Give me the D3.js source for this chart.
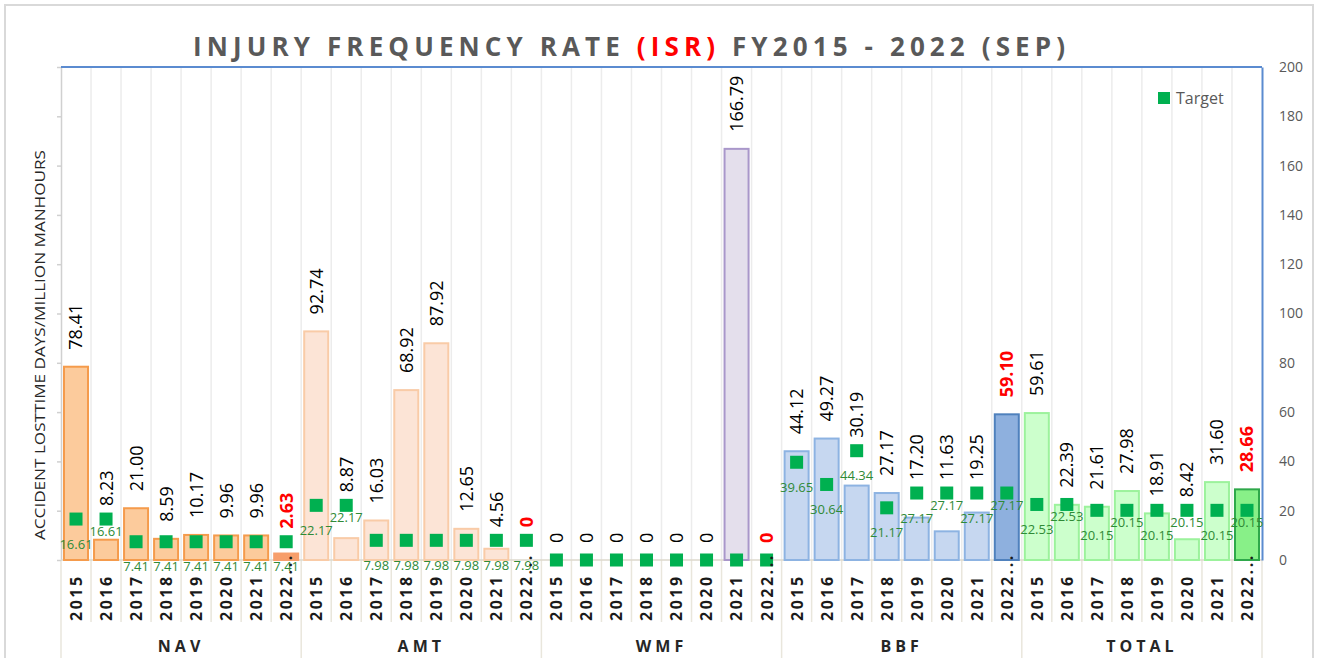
<!DOCTYPE html>
<meta charset="utf-8">
<style>
  body { margin: 0; background: #fff; }
  text { font-family: "Open Sans", Lato, sans-serif; }
</style>
<body>
<svg width="1319" height="658"></svg>
<script src="https://cdn.jsdelivr.net/npm/d3@7"></script>
<script>
    // ---- data ----
    let groups = ["NAV", "AMT", "WMF", "BBF", "TOTAL"];
    let years = ["2015", "2016", "2017", "2018", "2019", "2020", "2021", "2022..."];

    let navRate   = [78.41, 8.23, 21.00, 8.59, 10.17, 9.96, 9.96, 2.63];
    let navTarget = [16.61, 16.61, 7.41, 7.41, 7.41, 7.41, 7.41, 7.41];
    let amtRate   = [92.74, 8.87, 16.03, 68.92, 87.92, 12.65, 4.56, 0];
    let amtTarget = [22.17, 22.17, 7.98, 7.98, 7.98, 7.98, 7.98, 7.98];
    let wmfRate   = [0, 0, 0, 0, 0, 0, 166.79, 0];
    let wmfTarget = [0, 0, 0, 0, 0, 0, 0, 0];
    let bbfRate   = [44.12, 49.27, 30.19, 27.17, 17.20, 11.63, 19.25, 59.10];
    let bbfTarget = [39.65, 30.64, 44.34, 21.17, 27.17, 27.17, 27.17, 27.17];
    let totRate   = [59.61, 22.39, 21.61, 27.98, 18.91, 8.42, 31.60, 28.66];
    let totTarget = [22.53, 22.53, 20.15, 20.15, 20.15, 20.15, 20.15, 20.15];

    let yTicks = [0, 20, 40, 60, 80, 100, 120, 140, 160, 180, 200];

    // styles per group (normal bar / last, highlighted bar)
    let palette = {
        NAV:   { fill: "#FCCB9C", stroke: "#F59B4C", lastFill: "#F79E6B", lastStroke: "#F79E6B" },
        AMT:   { fill: "#FCE4D6", stroke: "#F9CBA7", lastFill: "#FCE4D6", lastStroke: "#F9CBA7" },
        WMF:   { fill: "#E4DFEC", stroke: "#A997CA", lastFill: "#E4DFEC", lastStroke: "#A997CA" },
        BBF:   { fill: "#C6D7F0", stroke: "#8DB3E2", lastFill: "#8EB0DE", lastStroke: "#4F81BD" },
        TOTAL: { fill: "#CCFFCC", stroke: "#9CF29C", lastFill: "#88F088", lastStroke: "#2EA84A" }
    };

    let rates = [navRate, amtRate, wmfRate, bbfRate, totRate];
    let targets = [navTarget, amtTarget, wmfTarget, bbfTarget, totTarget];

    let rows = [];
    groups.forEach(function(g, gi) {
        years.forEach(function(yr, yi) {
            rows.push({ key: g + "|" + yr, group: g, year: yr, value: rates[gi][yi],
                        target: targets[gi][yi], last: yi == years.length - 1 });
        });
    });

    var svg = d3.select("svg");
    var width = +svg.attr("width");
    var height = +svg.attr("height");

    var plotLeft = 61, plotRight = 1262, plotTop = 67, plotBottom = 560;

    var x = d3.scaleBand()
        .domain(rows.map(function(d) { return d.key; }))
        .range([plotLeft, plotRight])
        .paddingInner(0.2)
        .paddingOuter(0.1);
    var step = x.step();
    var y = d3.scaleLinear().domain([0, 200]).range([plotBottom, plotTop]);
    function cx(d) { return x(d.key) + x.bandwidth() / 2; }

    // chart border
    svg.append("rect")
        .attr("x", 5).attr("y", 5)
        .attr("width", width - 11).attr("height", height + 10)
        .attr("fill", "#fff").attr("stroke", "#d9d9d9").attr("stroke-width", 2);

    // title
    var title = svg.append("text")
        .attr("x", 629).attr("y", 56)
        .attr("text-anchor", "middle")
        .attr("font-size", 26).attr("font-weight", "bold")
        .attr("fill", "#595959")
        .attr("textLength", 872).attr("lengthAdjust", "spacing");
    title.append("tspan").text("INJURY  FREQUENCY  RATE  ");
    title.append("tspan").attr("fill", "#FF0000").text("(ISR)");
    title.append("tspan").text("  FY2015  -  2022  (SEP)");

    // vertical grid lines at every category boundary
    var bounds = d3.range(rows.length + 1).map(function(i) { return plotLeft + i * step; });
    svg.append("g").selectAll("line")
        .data(bounds.slice(1, -1))
        .enter().append("line")
            .attr("x1", function(d) { return d; }).attr("x2", function(d) { return d; })
            .attr("y1", plotTop).attr("y2", plotBottom)
            .attr("stroke", "#ececec").attr("stroke-width", 1.5);

    // category separators below the axis
    svg.append("g").selectAll("line")
        .data(bounds)
        .enter().append("line")
            .attr("x1", function(d) { return d; }).attr("x2", function(d) { return d; })
            .attr("y1", plotBottom)
            .attr("y2", function(d, i) { return i % years.length == 0 ? 660 : 622; })
            .attr("stroke", "#e9e6dc").attr("stroke-width", 1.5);

    // left axis: ticks only
    svg.append("g")
        .attr("transform", "translate(" + plotLeft + ",0)")
        .call(d3.axisLeft(y).tickValues(yTicks).tickFormat("").tickSize(4).tickSizeOuter(0))
        .call(function(g) {
            g.selectAll("path, line").attr("stroke", "#d0d0d0").attr("stroke-width", 1.5);
        });

    // bottom axis line
    svg.append("line")
        .attr("x1", plotLeft).attr("x2", plotRight).attr("y1", plotBottom).attr("y2", plotBottom)
        .attr("stroke", "#dcd8cc").attr("stroke-width", 1.5);

    // top (secondary) axis line
    svg.append("line")
        .attr("x1", plotLeft).attr("x2", plotRight).attr("y1", plotTop).attr("y2", plotTop)
        .attr("stroke", "#5B8BD0").attr("stroke-width", 2);

    // right axis
    svg.append("g")
        .attr("transform", "translate(" + plotRight + ",0)")
        .call(d3.axisRight(y).tickValues(yTicks).tickSize(0).tickPadding(17).tickSizeOuter(0))
        .call(function(g) {
            g.select(".domain").attr("stroke", "#5B8BD0").attr("stroke-width", 2);
            g.selectAll("text").attr("font-size", 14).attr("fill", "#595959")
                .attr("font-family", "'Open Sans', sans-serif");
        });

    // bars
    svg.append("g").selectAll("rect")
        .data(rows.filter(function(d) { return d.value > 0; }))
        .enter().append("rect")
            .attr("x", function(d) { return x(d.key); })
            .attr("width", x.bandwidth())
            .attr("y", function(d) { return y(d.value); })
            .attr("height", function(d) { return y(0) - y(d.value); })
            .attr("fill", function(d) { return d.last ? palette[d.group].lastFill : palette[d.group].fill; })
            .attr("stroke", function(d) { return d.last ? palette[d.group].lastStroke : palette[d.group].stroke; })
            .attr("stroke-width", 2);

    // target markers
    var msize = 13;
    svg.append("g").selectAll("rect")
        .data(rows)
        .enter().append("rect")
            .attr("x", function(d) { return cx(d) - msize / 2; })
            .attr("y", function(d) { return y(d.target) - msize / 2; })
            .attr("width", msize).attr("height", msize)
            .attr("fill", "#00B050");

    // value labels (rotated), kept above both bar and marker
    function fmt(v) { return v == 0 ? "0" : v.toFixed(2); }
    svg.append("g").selectAll("text")
        .data(rows)
        .enter().append("text")
            .attr("transform", function(d) {
                var by = Math.min(y(d.value) - 17, y(d.target) - 13);
                return "translate(" + cx(d) + "," + by + ") rotate(-90)";
            })
            .attr("dy", "0.36em")
            .attr("font-size", 18)
            .attr("font-weight", function(d) { return d.last ? "bold" : "normal"; })
            .attr("fill", function(d) { return d.last ? "#FF0000" : "#000"; })
            .text(function(d) { return fmt(d.value); });

    // target labels: below the marker, moved closer when it would hit its left neighbour
    var tLabels = rows.filter(function(d) { return d.target > 0; });
    var prev = null;
    tLabels.forEach(function(d) {
        var txt = d.target.toFixed(2);
        var w = txt.length * 6.8;
        var far = y(d.target) + 25, near = y(d.target) + 12;
        var ly = far;
        if (prev && (cx(d) - prev.x) < (w + prev.w) / 2 && Math.abs(far - prev.y) < 12) ly = near;
        d.ly = ly;
        prev = { x: cx(d), y: ly, w: w };
    });
    svg.append("g").selectAll("text")
        .data(tLabels)
        .enter().append("text")
            .attr("x", cx)
            .attr("y", function(d) { return d.ly; })
            .attr("dy", "0.35em")
            .attr("text-anchor", "middle")
            .attr("font-size", 13)
            .attr("fill", "#2F8A36")
            .text(function(d) { return d.target.toFixed(2); });

    // year labels
    svg.append("g").selectAll("text")
        .data(rows)
        .enter().append("text")
            .attr("transform", function(d) {
                return "translate(" + cx(d) + ",621) rotate(-90)";
            })
            .attr("dy", "0.37em")
            .attr("font-size", 16).attr("font-weight", "bold")
            .attr("letter-spacing", 2.5)
            .attr("fill", "#1a1a1a")
            .text(function(d) { return d.year; });

    // group labels
    svg.append("g").selectAll("text")
        .data(groups)
        .enter().append("text")
            .attr("x", function(d, i) { return plotLeft + (i + 0.5) * years.length * step; })
            .attr("y", 652)
            .attr("text-anchor", "middle")
            .attr("font-size", 16).attr("font-weight", "bold")
            .attr("letter-spacing", 4)
            .attr("fill", "#262626")
            .text(function(d) { return d; });

    // y axis title
    svg.append("text")
        .attr("transform", "translate(45,345) rotate(-90)")
        .attr("text-anchor", "middle")
        .attr("font-size", 15)
        .attr("fill", "#262626")
        .attr("textLength", 390).attr("lengthAdjust", "spacingAndGlyphs")
        .text("ACCIDENT  LOSTTIME DAYS/MILLION MANHOURS");

    // legend
    svg.append("rect")
        .attr("x", 1158).attr("y", 92).attr("width", 12).attr("height", 12)
        .attr("fill", "#00B050");
    svg.append("text")
        .attr("x", 1176).attr("y", 104)
        .attr("font-size", 16).attr("fill", "#595959")
        .text("Target");
</script>
</body>
